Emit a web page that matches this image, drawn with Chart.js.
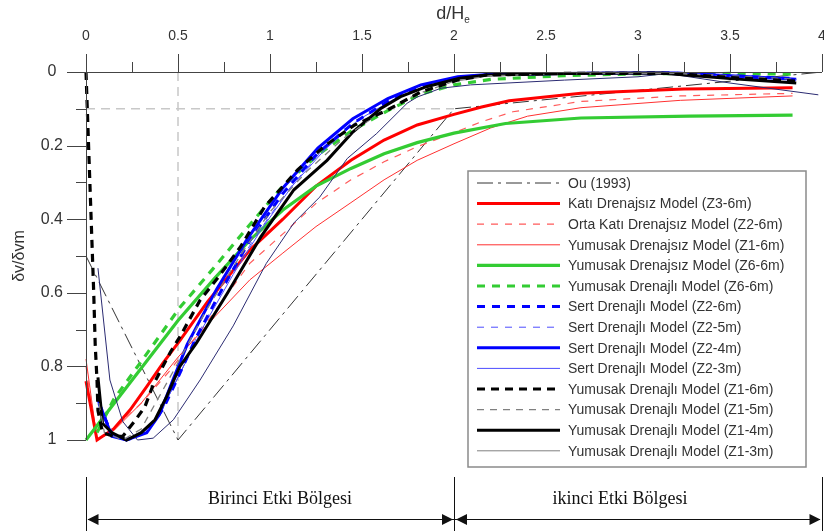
<!DOCTYPE html>
<html>
<head>
<meta charset="utf-8">
<script src="https://cdn.jsdelivr.net/npm/chart.js@4.4.1/dist/chart.umd.min.js"></script>
<style>
  html, body { margin: 0; padding: 0; background: #fff; }
  #wrap { width: 824px; height: 531px; }
</style>
</head>
<body>
<div id="wrap"><canvas id="grafik" width="824" height="531"></canvas></div>
<script>
// Ou (1993)
const ouX = [0, 0.5, 2, 4];
const ouY = [0.5, 1, 0.1, 0];

// Katı Drenajsız Model (Z3-6m)
const katiX = [0, 0.06, 0.15, 0.24, 0.33, 0.42, 0.51, 0.66, 0.89, 1.07, 1.25, 1.44, 1.62, 1.8, 2.0, 2.15, 2.3, 2.69, 3.25, 3.84];
const katiY = [0.84, 1.0, 0.97, 0.918, 0.855, 0.79, 0.73, 0.625, 0.484, 0.40, 0.31, 0.24, 0.185, 0.144, 0.115, 0.095, 0.078, 0.058, 0.046, 0.043];

// Orta Katı Drenajsız Model (Z2-6m)
const ortaX = [0, 0.06, 0.15, 0.3, 0.45, 0.65, 0.89, 1.07, 1.25, 1.44, 1.62, 1.8, 2.0, 2.15, 2.32, 2.69, 3.23, 3.84];
const ortaY = [0.8, 1.0, 0.97, 0.9, 0.815, 0.685, 0.52, 0.44, 0.357, 0.293, 0.244, 0.203, 0.165, 0.135, 0.108, 0.08, 0.065, 0.058];

// Yumusak Drenajsız Model (Z1-6m)
const drnsZ1X = [0, 0.06, 0.15, 0.3, 0.5, 0.7, 0.89, 1.07, 1.25, 1.44, 1.62, 1.8, 2.0, 2.2, 2.4, 2.69, 3.23, 3.84];
const drnsZ1Y = [0.78, 1.0, 0.975, 0.9, 0.775, 0.665, 0.565, 0.492, 0.42, 0.355, 0.293, 0.24, 0.195, 0.152, 0.12, 0.097, 0.077, 0.065];

// Yumusak Drenajsız Model (Z6-6m)
const drnsZ6X = [0, 0.1, 0.3, 0.5, 0.7, 0.89, 1.07, 1.25, 1.44, 1.62, 1.8, 2.0, 2.28, 2.69, 3.28, 3.84];
const drnsZ6Y = [1.0, 0.935, 0.805, 0.675, 0.56, 0.457, 0.375, 0.31, 0.262, 0.222, 0.192, 0.166, 0.14, 0.125, 0.12, 0.117];

// Yumusak Drenajlı Model (Z6-6m)
const drnZ6X = [0.06, 0.15, 0.31, 0.51, 0.69, 0.89, 1.07, 1.26, 1.45, 1.64, 1.82, 2.0, 2.2, 2.6, 3.0, 3.5, 3.86];
const drnZ6Y = [0.98, 0.89, 0.78, 0.64, 0.535, 0.415, 0.31, 0.225, 0.158, 0.105, 0.06, 0.035, 0.02, 0.01, 0.005, 0.004, 0.006];

// Sert Drenajlı Model (Z2-6m, Z2-5m, Z2-4m, Z2-3m)
const sert6X = [0.07, 0.14, 0.22, 0.33, 0.42, 0.5, 0.6, 0.75, 0.9, 1.07, 1.26, 1.45, 1.64, 1.82, 2.02, 2.2, 2.6, 3.0, 3.2, 3.5, 3.86];
const sert6Y = [0.9, 0.985, 1.0, 0.975, 0.915, 0.83, 0.72, 0.58, 0.45, 0.33, 0.22, 0.14, 0.08, 0.04, 0.015, 0.007, 0.004, 0.003, 0.003, 0.01, 0.018];
const sert5X = [0.07, 0.15, 0.23, 0.34, 0.43, 0.52, 0.62, 0.78, 0.93, 1.1, 1.28, 1.47, 1.66, 1.84, 2.03, 2.2, 2.6, 3.0, 3.5, 3.86];
const sert5Y = [0.9, 0.985, 1.0, 0.97, 0.9, 0.81, 0.7, 0.56, 0.44, 0.32, 0.215, 0.135, 0.078, 0.04, 0.016, 0.008, 0.005, 0.004, 0.012, 0.02];
const sert4X = [0.065, 0.14, 0.22, 0.33, 0.40, 0.47, 0.55, 0.71, 0.875, 1.07, 1.26, 1.45, 1.64, 1.82, 2.02, 2.2, 2.6, 3.0, 3.2, 3.5, 3.86];
const sert4Y = [0.89, 0.99, 1.0, 0.98, 0.93, 0.84, 0.74, 0.59, 0.455, 0.315, 0.207, 0.127, 0.072, 0.035, 0.013, 0.006, 0.004, 0.003, 0.003, 0.01, 0.02];
const sert3X = [0.07, 0.15, 0.24, 0.35, 0.44, 0.53, 0.64, 0.8, 0.95, 1.12, 1.3, 1.48, 1.67, 1.85, 2.04, 2.2, 2.6, 3.0, 3.5, 3.86];
const sert3Y = [0.91, 0.99, 1.0, 0.965, 0.89, 0.8, 0.69, 0.55, 0.43, 0.31, 0.21, 0.13, 0.075, 0.038, 0.015, 0.008, 0.005, 0.004, 0.012, 0.02];

// Yumusak Drenajlı Model (Z1-6m, Z1-5m, Z1-4m, Z1-3m)
const yum6X = [0, 0.014, 0.028, 0.042, 0.05, 0.06, 0.065, 0.09, 0.15, 0.2, 0.27, 0.32, 0.365, 0.46, 0.51, 0.62, 0.72, 0.84, 0.97, 1.15, 1.30, 1.46, 1.64, 1.82, 2.02, 2.18, 2.6, 3.2, 3.5, 3.86];
const yum6Y = [0, 0.2, 0.4, 0.6, 0.74, 0.84, 0.92, 0.98, 0.99, 0.99, 0.945, 0.91, 0.85, 0.76, 0.72, 0.62, 0.557, 0.475, 0.367, 0.266, 0.2, 0.144, 0.103, 0.054, 0.022, 0.008, 0.004, 0.004, 0.015, 0.025];
const yum5X = [0.07, 0.1, 0.2, 0.3, 0.4, 0.5, 0.65, 0.85, 1.0, 1.2, 1.4, 1.6, 1.8, 2.0, 2.2, 2.6, 3.2, 3.5, 3.86];
const yum5Y = [0.9, 0.98, 1.0, 0.97, 0.88, 0.79, 0.65, 0.49, 0.38, 0.27, 0.18, 0.11, 0.06, 0.025, 0.01, 0.005, 0.004, 0.01, 0.02];
const yum4X = [0.065, 0.09, 0.14, 0.22, 0.30, 0.375, 0.44, 0.51, 0.60, 0.77, 0.95, 1.13, 1.31, 1.45, 1.60, 1.71, 1.85, 2.03, 2.18, 2.6, 3.12, 3.5, 3.86];
const yum4Y = [0.83, 0.955, 0.98, 1.0, 0.98, 0.945, 0.88, 0.80, 0.737, 0.60, 0.448, 0.32, 0.24, 0.163, 0.10, 0.067, 0.04, 0.017, 0.008, 0.004, 0.003, 0.018, 0.03];
const yum3X = [0.065, 0.13, 0.2, 0.28, 0.365, 0.475, 0.62, 0.8, 0.98, 1.13, 1.27, 1.42, 1.58, 1.745, 1.8, 1.93, 2.09, 2.6, 3.0, 3.16, 3.5, 3.98];
const yum3Y = [0.533, 0.837, 0.95, 1.0, 0.995, 0.945, 0.837, 0.69, 0.52, 0.41, 0.34, 0.235, 0.167, 0.085, 0.068, 0.044, 0.035, 0.022, 0.013, 0.004, 0.03, 0.062];

// yardımcı kesikli çizgiler (d/He = 0.5 ve δv/δvm = 0.1)
const refDikeyX = [0.5, 0.5];
const refDikeyY = [0, 1];
const refYatayX = [0, 2];
const refYatayY = [0.1, 0.1];

const xTicks = [0, 0.5, 1, 1.5, 2, 2.5, 3, 3.5, 4];
const yTicks = [0, 0.2, 0.4, 0.6, 0.8, 1];

function nokta(xs, ys) {
    return xs.map((x, i) => ({ x: x, y: ys[i] }));
}

function seri(label, xs, ys, renk, kalinlik, kesik, ekstra) {
    return Object.assign({
        label: label,
        data: nokta(xs, ys),
        borderColor: renk,
        backgroundColor: renk,
        borderWidth: kalinlik,
        borderDash: kesik || [],
        pointRadius: 0,
        tension: 0,
        fill: false,
        clip: false
    }, ekstra || {});
}

const datasets = [
    seri('Ou (1993)', ouX, ouY, '#333333', 1, [16, 5, 3, 5], { order: 5 }),
    seri('Katı Drenajsız Model (Z3-6m)', katiX, katiY, '#ff0000', 3, null, { order: 4 }),
    seri('Orta Katı Drenajsız Model (Z2-6m)', ortaX, ortaY, '#ff5a5a', 1.2, [7, 7], { order: 4 }),
    seri('Yumusak Drenajsız Model (Z1-6m)', drnsZ1X, drnsZ1Y, '#ff3030', 1, null, { order: 4 }),
    seri('Yumusak Drenajsız Model (Z6-6m)', drnsZ6X, drnsZ6Y, '#33cc33', 3.2, null, { order: 3 }),
    seri('Yumusak Drenajlı Model (Z6-6m)', drnZ6X, drnZ6Y, '#33cc33', 3.2, [8, 7], { order: 3 }),
    seri('Sert Drenajlı Model (Z2-6m)', sert6X, sert6Y, '#0000ff', 3, [8, 7], { order: 2 }),
    seri('Sert Drenajlı Model (Z2-5m)', sert5X, sert5Y, '#4d4dff', 1, [7, 7], { order: 2 }),
    seri('Sert Drenajlı Model (Z2-4m)', sert4X, sert4Y, '#0000ff', 3, null, { order: 2 }),
    seri('Sert Drenajlı Model (Z2-3m)', sert3X, sert3Y, '#4d4dff', 1, null, { order: 2 }),
    seri('Yumusak Drenajlı Model (Z1-6m)', yum6X, yum6Y, '#000000', 3.2, [8, 6], { order: 1 }),
    seri('Yumusak Drenajlı Model (Z1-5m)', yum5X, yum5Y, '#808080', 1.3, [7, 6], { order: 1 }),
    seri('Yumusak Drenajlı Model (Z1-4m)', yum4X, yum4Y, '#000000', 3, null, { order: 1 }),
    seri('Yumusak Drenajlı Model (Z1-3m)', yum3X, yum3Y, '#2b2b72', 1, null, { order: 1, legendColor: '#808080' }),
    seri('ref1', refDikeyX, refDikeyY, '#c8c8c8', 1.5, [9, 6], { order: 20, ref: true }),
    seri('ref2', refYatayX, refYatayY, '#c8c8c8', 1.5, [9, 6], { order: 20, ref: true })
];

// eksenler, lejant ve alt bölge okları
const cizimEklentisi = {
    id: 'cizimEklentisi',
    afterDatasetsDraw(chart) {
        const ctx = chart.ctx;
        const lx = 468, ly = 171, lw = 338, lh = 296;
        ctx.save();
        ctx.fillStyle = '#ffffff';
        ctx.fillRect(lx, ly, lw, lh);
        ctx.strokeStyle = '#8a8a8a';
        ctx.lineWidth = 1.5;
        ctx.strokeRect(lx, ly, lw, lh);
        ctx.font = '14px "Liberation Sans", Arial, sans-serif';
        ctx.textBaseline = 'middle';
        ctx.textAlign = 'left';
        chart.data.datasets.filter(ds => !ds.ref).forEach((ds, i) => {
            const y = 183 + i * 20.6;
            ctx.beginPath();
            ctx.strokeStyle = ds.legendColor || ds.borderColor;
            ctx.lineWidth = ds.borderWidth;
            ctx.setLineDash(ds.borderDash);
            ctx.moveTo(477, y);
            ctx.lineTo(560, y);
            ctx.stroke();
            ctx.setLineDash([]);
            ctx.fillStyle = '#333333';
            ctx.fillText(ds.label, 568, y + 1);
        });
        ctx.restore();
    },
    afterDraw(chart) {
        const ctx = chart.ctx;
        const xs = chart.scales.x, ys = chart.scales.y;
        const a = chart.chartArea;
        ctx.save();
        ctx.strokeStyle = '#444444';
        ctx.lineWidth = 1;
        ctx.setLineDash([]);
        ctx.beginPath();
        ctx.moveTo(a.left, a.top + 0.5);
        ctx.lineTo(a.right, a.top + 0.5);
        ctx.moveTo(a.left + 0.5, a.top);
        ctx.lineTo(a.left + 0.5, a.bottom);
        for (let v = 0; v <= 4.001; v += 0.25) {
            const px = Math.round(xs.getPixelForValue(v)) + 0.5;
            const uzun = Math.round(v * 4) % 2 === 0;
            ctx.moveTo(px, a.top);
            ctx.lineTo(px, a.top - (uzun ? 18 : 10));
        }
        for (let v = 0; v <= 1.001; v += 0.1) {
            const py = Math.round(ys.getPixelForValue(v)) + 0.5;
            const uzun = Math.round(v * 10) % 2 === 0;
            ctx.moveTo(a.left, py);
            ctx.lineTo(a.left - (uzun ? 19 : 10), py);
        }
        ctx.stroke();

        // eksen başlıkları
        ctx.fillStyle = '#333333';
        ctx.textBaseline = 'alphabetic';
        ctx.font = '18px "Liberation Sans", Arial, sans-serif';
        const ana = 'd/H';
        const w1 = ctx.measureText(ana).width;
        ctx.font = '10px "Liberation Sans", Arial, sans-serif';
        const w2 = ctx.measureText('e').width;
        const bas = (xs.getPixelForValue(2) - 1) - (w1 + w2) / 2;
        ctx.font = '18px "Liberation Sans", Arial, sans-serif';
        ctx.textAlign = 'left';
        ctx.fillText(ana, bas, 19);
        ctx.font = '10px "Liberation Sans", Arial, sans-serif';
        ctx.fillText('e', bas + w1, 23);

        ctx.save();
        ctx.translate(20, 256);
        ctx.rotate(-Math.PI / 2);
        ctx.textAlign = 'center';
        ctx.textBaseline = 'middle';
        ctx.font = '16px "Liberation Sans", Arial, sans-serif';
        ctx.fillText('δv/δvm', 0, 0);
        ctx.restore();

        // etki bölgeleri
        const x0 = xs.getPixelForValue(0);
        const x2 = xs.getPixelForValue(2);
        const x4 = xs.getPixelForValue(4);
        ctx.strokeStyle = '#111111';
        ctx.fillStyle = '#111111';
        ctx.lineWidth = 1;
        ctx.beginPath();
        [x0, x2, x4].forEach(px => {
            ctx.moveTo(Math.round(px) + 0.5, 477);
            ctx.lineTo(Math.round(px) + 0.5, 531);
        });
        ctx.moveTo(x0 + 2, 519.5);
        ctx.lineTo(x4 - 2, 519.5);
        ctx.stroke();
        const ok = (uc, yon) => {
            ctx.beginPath();
            ctx.moveTo(uc, 519.5);
            ctx.lineTo(uc + yon * 11, 514);
            ctx.lineTo(uc + yon * 11, 525);
            ctx.closePath();
            ctx.fill();
        };
        ok(x0 + 1.5, 1);
        ok(x2 - 1, -1);
        ok(x2 + 2, 1);
        ok(x4 - 1.5, -1);
        ctx.font = '18px "Liberation Serif", "Times New Roman", serif';
        ctx.textAlign = 'center';
        ctx.textBaseline = 'middle';
        ctx.fillText('Birinci Etki Bölgesi', 280, 499);
        ctx.fillText('ikinci Etki Bölgesi', 620, 499);
        ctx.restore();
    }
};

new Chart(document.getElementById('grafik'), {
    type: 'line',
    data: { datasets: datasets },
    plugins: [cizimEklentisi],
    options: {
        responsive: false,
        animation: false,
        devicePixelRatio: 1,
        layout: { padding: { left: 0, right: 2, top: 0, bottom: 91 } },
        plugins: {
            legend: { display: false },
            tooltip: { enabled: false }
        },
        scales: {
            x: {
                type: 'linear',
                position: 'top',
                min: 0,
                max: 4,
                afterBuildTicks: s => { s.ticks = xTicks.map(v => ({ value: v })); },
                ticks: {
                    color: '#333333',
                    font: { family: '"Liberation Sans", Arial, sans-serif', size: 14 },
                    padding: 9,
                    maxRotation: 0,
                    autoSkip: false,
                    callback: v => String(v)
                },
                grid: { display: true, drawOnChartArea: false, tickLength: 18, tickColor: 'rgba(0,0,0,0)' },
                border: { display: false },
                afterFit: s => { s.height = 72; s.paddingLeft = 0; s.paddingRight = 0; }
            },
            y: {
                type: 'linear',
                reverse: true,
                min: 0,
                max: 1,
                afterBuildTicks: s => { s.ticks = yTicks.map(v => ({ value: v })); },
                ticks: {
                    color: '#333333',
                    font: { family: '"Liberation Sans", Arial, sans-serif', size: 16 },
                    padding: 4,
                    crossAlign: 'center',
                    autoSkip: false,
                    callback: v => String(v)
                },
                grid: { display: true, drawOnChartArea: false, tickLength: 19, tickColor: 'rgba(0,0,0,0)' },
                border: { display: false },
                afterFit: s => { s.width = 86; s.paddingTop = 0; s.paddingBottom = 0; }
            }
        }
    }
});
</script>
</body>
</html>
